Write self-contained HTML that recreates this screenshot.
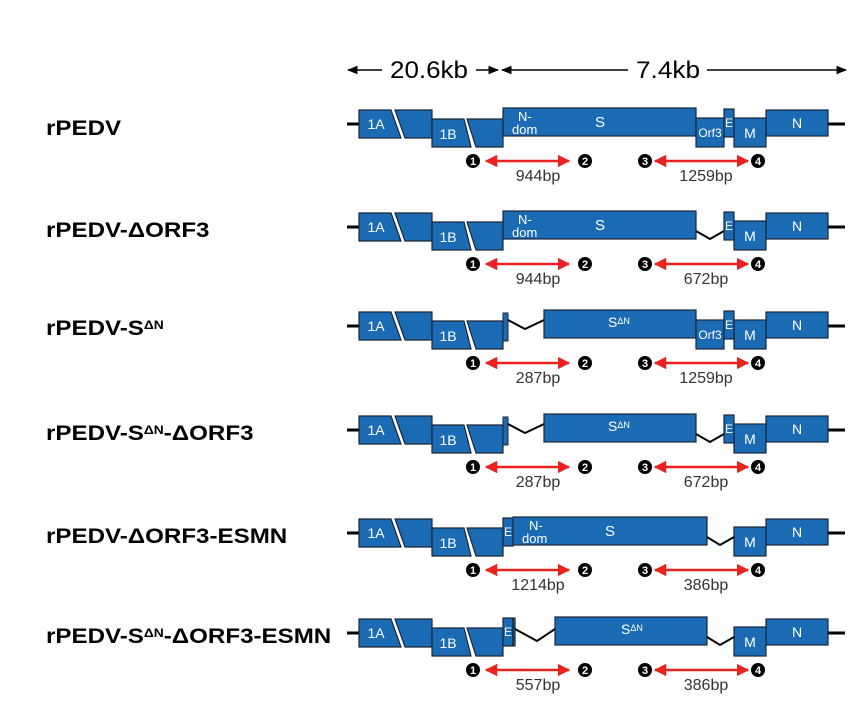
<!DOCTYPE html>
<html><head><meta charset="utf-8"><style>
body{margin:0;background:#fff;width:864px;height:715px;overflow:hidden}
svg text{font-family:"Liberation Sans",sans-serif}
</style></head><body>
<svg width="864" height="715" xmlns="http://www.w3.org/2000/svg">
<defs>
<marker id="ah" viewBox="0 0 10 10" refX="9" refY="5" markerWidth="7" markerHeight="7" orient="auto-start-reverse"><path d="M0,1 L10,5 L0,9 z" fill="#000"/></marker>
<marker id="ar" viewBox="0 0 10 10" refX="9" refY="5" markerWidth="5" markerHeight="5" orient="auto-start-reverse"><path d="M0,0 L10,5 L0,10 z" fill="#e8231f"/></marker>
<g id="head">
<line x1="347" y1="0" x2="359" y2="0" stroke="#000" stroke-width="3"/>
<line x1="828" y1="0" x2="845" y2="0" stroke="#000" stroke-width="3"/>
<polygon points="359,-14 391,-14 401,14 359,14" fill="#1b6bb4" stroke="#1a2638" stroke-width="1.2"/>
<polygon points="395,-14 432,-14 432,14 405,14" fill="#1b6bb4" stroke="#1a2638" stroke-width="1.2"/>
<polygon points="432,-5 464,-5 471,23 432,23" fill="#1b6bb4" stroke="#1a2638" stroke-width="1.2"/>
<polygon points="467,-5 503,-5 503,23 476,23" fill="#1b6bb4" stroke="#1a2638" stroke-width="1.2"/>
<text x="376" y="5" font-size="14" fill="#fff" text-anchor="middle">1A</text>
<text x="448" y="15" font-size="14" fill="#fff" text-anchor="middle">1B</text>
<rect x="766" y="-14" width="62" height="26" fill="#1b6bb4" stroke="#1a2638" stroke-width="1.2"/>
<text x="797" y="4" font-size="14" fill="#fff" text-anchor="middle">N</text>
<rect x="734" y="-6" width="32" height="29" fill="#1b6bb4" stroke="#1a2638" stroke-width="1.2"/>
<text x="750" y="14" font-size="14" fill="#fff" text-anchor="middle">M</text>
</g>
<g id="sfull">
<rect x="503" y="-16" width="193" height="28" fill="#1b6bb4" stroke="#1a2638" stroke-width="1.2"/>
<text x="518" y="-3" font-size="13" fill="#fff" text-anchor="start">N-</text>
<text x="512" y="10" font-size="13" fill="#fff" text-anchor="start">dom</text>
<text x="600" y="3" font-size="15" fill="#fff" text-anchor="middle">S</text>
</g>
<g id="orf3">
<rect x="696" y="-6" width="28" height="29" fill="#1b6bb4" stroke="#1a2638" stroke-width="1.2"/>
<text x="710" y="13" font-size="12" fill="#fff" text-anchor="middle">Orf3</text>
</g>
<g id="e">
<rect x="724" y="-15" width="10" height="28" fill="#1b6bb4" stroke="#1a2638" stroke-width="1.2"/>
<text x="729" y="3" font-size="12" fill="#fff" text-anchor="middle">E</text>
</g>
<g id="dorf3"><polyline points="696,4 710,12 724,4" fill="none" stroke="#000" stroke-width="2"/></g>
<g id="sdn">
<rect x="503" y="-13" width="5" height="28" fill="#1b6bb4" stroke="#1a2638" stroke-width="1"/>
<polyline points="508,-6 525,3 544,-6" fill="none" stroke="#000" stroke-width="2"/>
<rect x="544" y="-16" width="152" height="28" fill="#1b6bb4" stroke="#1a2638" stroke-width="1.2"/>
<text x="608" y="1" font-size="14" fill="#fff" text-anchor="start">S<tspan font-size="9" dy="-3">ΔN</tspan></text>
</g>
<g id="cl">
<circle cx="473" cy="37" r="7" fill="#000"/><text x="473" y="41" font-size="11" font-weight="bold" fill="#fff" text-anchor="middle">1</text>
<line x1="486" y1="37" x2="569" y2="37" stroke="#e8231f" stroke-width="2.5" marker-start="url(#ar)" marker-end="url(#ar)"/>
<circle cx="585" cy="37" r="7" fill="#000"/><text x="585" y="41" font-size="11" font-weight="bold" fill="#fff" text-anchor="middle">2</text>
<circle cx="645" cy="37" r="7" fill="#000"/><text x="645" y="41" font-size="11" font-weight="bold" fill="#fff" text-anchor="middle">3</text>
<line x1="655" y1="37" x2="748" y2="37" stroke="#e8231f" stroke-width="2.5" marker-start="url(#ar)" marker-end="url(#ar)"/>
<circle cx="758" cy="37" r="7" fill="#000"/><text x="758" y="41" font-size="11" font-weight="bold" fill="#fff" text-anchor="middle">4</text>
</g>
</defs>

<line x1="348" y1="70" x2="382" y2="70" stroke="#000" stroke-width="1.5" marker-start="url(#ah)"/>
<text x="390" y="78" font-size="24" textLength="78" lengthAdjust="spacingAndGlyphs">20.6kb</text>
<line x1="476" y1="70" x2="498" y2="70" stroke="#000" stroke-width="1.5" marker-end="url(#ah)"/>
<line x1="502" y1="70" x2="628" y2="70" stroke="#000" stroke-width="1.5" marker-start="url(#ah)"/>
<text x="636" y="78" font-size="24" textLength="64" lengthAdjust="spacingAndGlyphs">7.4kb</text>
<line x1="707" y1="70" x2="846" y2="70" stroke="#000" stroke-width="1.5" marker-end="url(#ah)"/>

<g font-size="21" font-weight="bold" fill="#000" transform="scale(1.15,1)">
<text x="40" y="135">rPEDV</text>
<text x="40" y="237">rPEDV-ΔORF3</text>
<text x="40" y="335">rPEDV-S<tspan font-size="12" dy="-6">ΔN</tspan></text>
<text x="40" y="440">rPEDV-S<tspan font-size="12" dy="-6">ΔN</tspan><tspan dy="6">-ΔORF3</tspan></text>
<text x="40" y="543">rPEDV-ΔORF3-ESMN</text>
<text x="40" y="643">rPEDV-S<tspan font-size="12" dy="-6">ΔN</tspan><tspan dy="6">-ΔORF3-ESMN</tspan></text>
</g>

<g font-size="16" fill="#333" text-anchor="middle">
<g transform="translate(0,124)"><use href="#head"/><use href="#sfull"/><use href="#orf3"/><use href="#e"/><use href="#cl"/><text x="538" y="57">944bp</text><text x="706" y="57">1259bp</text></g>
<g transform="translate(0,227)"><use href="#head"/><use href="#sfull"/><use href="#dorf3"/><use href="#e"/><use href="#cl"/><text x="538" y="57">944bp</text><text x="706" y="57">672bp</text></g>
<g transform="translate(0,326)"><use href="#head"/><use href="#sdn"/><use href="#orf3"/><use href="#e"/><use href="#cl"/><text x="538" y="57">287bp</text><text x="706" y="57">1259bp</text></g>
<g transform="translate(0,430)"><use href="#head"/><use href="#sdn"/><use href="#dorf3"/><use href="#e"/><use href="#cl"/><text x="538" y="57">287bp</text><text x="706" y="57">672bp</text></g>
<g transform="translate(0,533)"><use href="#head"/>
<rect x="503" y="-15" width="10" height="28" fill="#1b6bb4" stroke="#1a2638" stroke-width="1.2"/>
<text x="508" y="3" font-size="12" fill="#fff">E</text>
<rect x="513" y="-16" width="194" height="28" fill="#1b6bb4" stroke="#1a2638" stroke-width="1.2"/>
<text x="529" y="-3" font-size="13" fill="#fff" text-anchor="start">N-</text>
<text x="522" y="10" font-size="13" fill="#fff" text-anchor="start">dom</text>
<text x="610" y="3" font-size="15" fill="#fff">S</text>
<polyline points="707,4 720,12 734,4" fill="none" stroke="#000" stroke-width="2"/>
<use href="#cl"/><text x="538" y="57">1214bp</text><text x="706" y="57">386bp</text></g>
<g transform="translate(0,633)"><use href="#head"/>
<rect x="503" y="-15" width="12" height="28" fill="#1b6bb4" stroke="#1a2638" stroke-width="1.2"/>
<line x1="513" y1="-15" x2="513" y2="13" stroke="#1a2638" stroke-width="1.5"/>
<text x="508" y="3" font-size="12" fill="#fff">E</text>
<polyline points="515,-4 537,8 555,-4" fill="none" stroke="#000" stroke-width="2"/>
<rect x="555" y="-16" width="152" height="28" fill="#1b6bb4" stroke="#1a2638" stroke-width="1.2"/>
<text x="621" y="1" font-size="14" fill="#fff" text-anchor="start">S<tspan font-size="9" dy="-3">ΔN</tspan></text>
<polyline points="707,4 720,12 734,4" fill="none" stroke="#000" stroke-width="2"/>
<use href="#cl"/><text x="538" y="57">557bp</text><text x="706" y="57">386bp</text></g>
</g>
</svg>
</body></html>
